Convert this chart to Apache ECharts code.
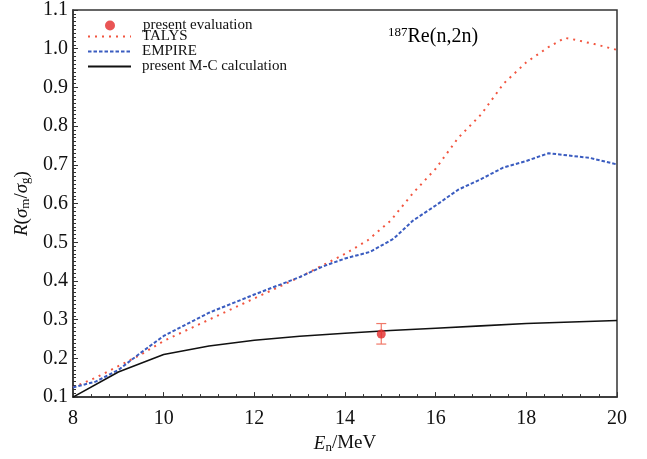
<!DOCTYPE html>
<html><head><meta charset="utf-8">
<script src="https://cdn.jsdelivr.net/npm/echarts@6/dist/echarts.min.js"></script>
<style>html,body{margin:0;padding:0;background:#fff}#c{width:647px;height:459px}</style>
</head><body><div id="c"></div>
<script>
const xTicks = [8, 10, 12, 14, 16, 18, 20];
const talysE = [8, 8.5, 9, 9.5, 10, 11, 12, 13, 13.5, 14, 14.5, 14.8, 15, 15.5, 16, 16.5, 17, 17.5, 18, 18.5, 18.85, 19, 19.5, 20];
const talysR = [0.125, 0.15, 0.18, 0.21, 0.245, 0.30, 0.355, 0.41, 0.44, 0.47, 0.505, 0.535, 0.555, 0.627, 0.69, 0.77, 0.83, 0.91, 0.965, 1.005, 1.028, 1.025, 1.012, 0.997];
const empireE = [8, 8.5, 9, 9.5, 10, 11, 12, 13, 13.5, 14, 14.55, 15.07, 15.5, 16, 16.5, 17, 17.49, 18, 18.49, 19.4, 20];
const empireR = [0.125, 0.14, 0.17, 0.215, 0.258, 0.318, 0.365, 0.41, 0.437, 0.458, 0.475, 0.509, 0.556, 0.595, 0.636, 0.663, 0.693, 0.71, 0.730, 0.718, 0.701];
const mcE = [8, 9, 10, 11, 12, 13, 14, 15, 16, 17, 18, 19, 20];
const mcR = [0.1, 0.165, 0.21, 0.232, 0.247, 0.257, 0.265, 0.272, 0.278, 0.284, 0.290, 0.294, 0.298];
const evalE = [14.8];
const evalR = [0.263];
const evalLo = [0.237];
const evalHi = [0.29];

const serif = 'Liberation Serif';
const zip = (a, b) => a.map((v, i) => [v, b[i]]);
const tickRich = { a: { fontFamily: serif, fontSize: 20, color: '#111' } };
const chart = echarts.init(document.getElementById('c'));
chart.setOption({
  animation: false,
  backgroundColor: '#fff',
  textStyle: { fontFamily: serif },
  grid: { left: 73, right: 30, top: 10, bottom: 54, show: true, borderColor: '#333', borderWidth: 1.5, backgroundColor: 'transparent' },
  legend: [
    { data: [{ name: 'present evaluation', icon: 'circle' }], left: 105, top: 18, padding: 0, itemWidth: 10, itemHeight: 10, selectedMode: false,
      textStyle: { fontFamily: serif, fontSize: 15, color: '#111', padding: [0, 0, 0, 23] } },
    { data: ['TALYS', 'EMPIRE', 'present M-C calculation'], orient: 'vertical', left: 87, top: 29, padding: 0, itemWidth: 43, itemHeight: 14, itemGap: 0, selectedMode: false,
      itemStyle: { opacity: 0 },
      textStyle: { fontFamily: serif, fontSize: 15, color: '#111', padding: [0, 0, 0, 6] } }
  ],
  xAxis: {
    type: 'value', min: 8, max: 20, interval: 2,
    name: '{i|E}{sub|n}{t|/MeV}', nameLocation: 'middle', nameGap: 26,
    nameTextStyle: { rich: {
      i: { fontFamily: serif, fontSize: 19, fontStyle: 'italic', color: '#111' },
      sub: { fontFamily: serif, fontSize: 13, color: '#111', padding: [8, 0, 0, 0] },
      t: { fontFamily: serif, fontSize: 19, color: '#111' } } },
    axisLine: { show: true, lineStyle: { color: '#333', width: 1.5 } },
    axisTick: { show: true, inside: true, length: 5, lineStyle: { color: '#333' } },
    minorTick: { show: true, splitNumber: 5, length: 3, lineStyle: { color: '#333' } },
    splitLine: { show: false },
    axisLabel: { fontFamily: serif, fontSize: 20, color: '#111', margin: 12, formatter: v => '{a|' + v + '}', rich: tickRich }
  },
  yAxis: {
    type: 'value', min: 0.1, max: 1.1, interval: 0.1,
    name: '{i|R}{t|(}{g|σ}{sub|m}{t|/}{g|σ}{sub|g}{t|)}', nameLocation: 'middle', nameGap: 40, nameRotate: 90,
    nameTextStyle: { rich: {
      i: { fontFamily: serif, fontSize: 19, fontStyle: 'italic', color: '#111' },
      g: { fontFamily: serif, fontSize: 19, fontStyle: 'italic', color: '#111' },
      sub: { fontFamily: serif, fontSize: 13, color: '#111', padding: [8, 0, 0, 0] },
      t: { fontFamily: serif, fontSize: 19, color: '#111' } } },
    axisLine: { show: true, lineStyle: { color: '#333', width: 1.5 } },
    axisTick: { show: true, inside: true, length: 5, lineStyle: { color: '#333' } },
    minorTick: { show: true, splitNumber: 10, length: 3, lineStyle: { color: '#333' } },
    splitLine: { show: false },
    axisLabel: { fontFamily: serif, fontSize: 20, color: '#111', margin: 5, formatter: v => '{a|' + v.toFixed(1) + '}', rich: tickRich }
  },
  graphic: [{
    type: 'text', left: 388, top: 26,
    style: { text: '{s|187}{m|Re(n,2n)}', rich: {
      s: { fontFamily: serif, fontSize: 13, color: '#111', verticalAlign: 'top', padding: [0, 0, 8, 0] },
      m: { fontFamily: serif, fontSize: 20, color: '#111' } } }
  }],
  series: [
    { name: 'TALYS', type: 'line', data: zip(talysE, talysR), symbol: 'none', z: 3,
      lineStyle: { color: '#f2553f', width: 2, type: [2, 5] }, itemStyle: { color: '#f2553f' } },
    { name: 'EMPIRE', type: 'line', data: zip(empireE, empireR), symbol: 'none', z: 3,
      lineStyle: { color: '#3a5cc0', width: 2, type: [3.5, 2] }, itemStyle: { color: '#3a5cc0' } },
    { name: 'present M-C calculation', type: 'line', data: zip(mcE, mcR), symbol: 'none', z: 3,
      lineStyle: { color: '#111', width: 1.6 }, itemStyle: { color: '#111' } },
    { name: 'errbar', type: 'custom', z: 4,
      data: evalE.map((e, i) => [e, evalLo[i], evalHi[i]]),
      renderItem: (params, api) => {
        const lo = api.coord([api.value(0), api.value(1)]);
        const hi = api.coord([api.value(0), api.value(2)]);
        const w = 5;
        const st = { stroke: '#f07868', lineWidth: 1.2 };
        return { type: 'group', children: [
          { type: 'line', shape: { x1: lo[0], y1: lo[1], x2: hi[0], y2: hi[1] }, style: st },
          { type: 'line', shape: { x1: lo[0] - w, y1: lo[1], x2: lo[0] + w, y2: lo[1] }, style: st },
          { type: 'line', shape: { x1: hi[0] - w, y1: hi[1], x2: hi[0] + w, y2: hi[1] }, style: st }
        ] };
      } },
    { name: 'present evaluation', type: 'scatter', data: zip(evalE, evalR), symbol: 'circle', symbolSize: 9, z: 5,
      itemStyle: { color: '#e42a2a' } }
  ]
});
</script></body></html>
